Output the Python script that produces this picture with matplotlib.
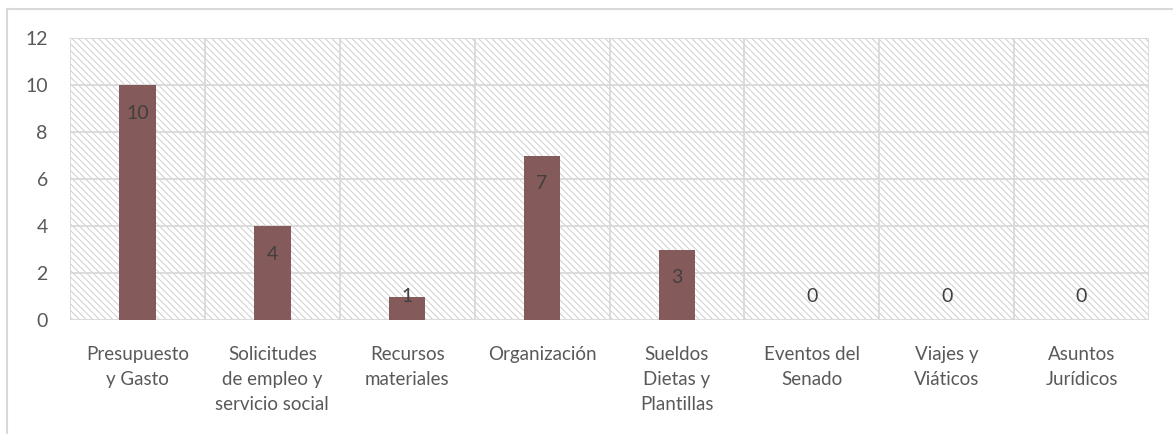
import matplotlib.pyplot as plt
from matplotlib.patches import Rectangle
from matplotlib.lines import Line2D
import numpy as np

categorias = ['Presupuesto\ny Gasto', 'Solicitudes\nde empleo y\nservicio social',
              'Recursos\nmateriales', 'Organización', 'Sueldos\nDietas y\nPlantillas',
              'Eventos del\nSenado', 'Viajes y\nViáticos', 'Asuntos\nJurídicos']
valores = [10, 4, 1, 7, 3, 0, 0, 0]
yticks = [0, 2, 4, 6, 8, 10, 12]

gris = '#D9D9D9'
texto = '#595959'
plt.rcParams['font.family'] = ['Lato', 'DejaVu Sans']
plt.rcParams['hatch.linewidth'] = 0.7

fig = plt.figure(figsize=(11.73, 4.34), dpi=100)
ax = fig.add_axes([70 / 1173, 1 - 320 / 434, (1149 - 70) / 1173, (320 - 38) / 434])

x = np.arange(len(categorias))
ax.set_xlim(-0.5, len(categorias) - 0.5)
ax.set_ylim(0, 12)

# fondo rayado
ax.add_patch(Rectangle((0, 0), 1, 1, transform=ax.transAxes, facecolor='white',
                       edgecolor='#CFCFCF', hatch='\\\\\\\\\\', linewidth=0, zorder=0))

for v in yticks:
    ax.axhline(v, color=gris, lw=1.3, zorder=1)
for b in np.arange(-0.5, len(categorias), 1):
    ax.axvline(b, color=gris, lw=1.3, zorder=1)

ax.bar(x, valores, width=0.27, color='#855A5A', zorder=2)

for xi, v in zip(x, valores):
    ax.text(xi, max(v - 1.2, 1.0), str(v), ha='center', va='center',
            fontsize=14, color='#404040', zorder=3)

for s in ax.spines.values():
    s.set_visible(False)

ax.set_yticks(yticks)
ax.set_xticks(x)
ax.set_xticklabels(categorias, linespacing=1.55)
ax.tick_params(axis='y', length=0, pad=16, labelsize=14, labelcolor=texto)
ax.tick_params(axis='x', length=0, pad=19, labelsize=13.5, labelcolor=texto)
ax.set_facecolor('white')

# borde del gráfico
fig.add_artist(Line2D([7 / 1173, 7 / 1173], [0, 1 - 9 / 434], color=gris, lw=1.5))
fig.add_artist(Line2D([7 / 1173, 1], [1 - 9 / 434, 1 - 9 / 434], color=gris, lw=1.5))

fig.savefig('out.png', dpi=100)
